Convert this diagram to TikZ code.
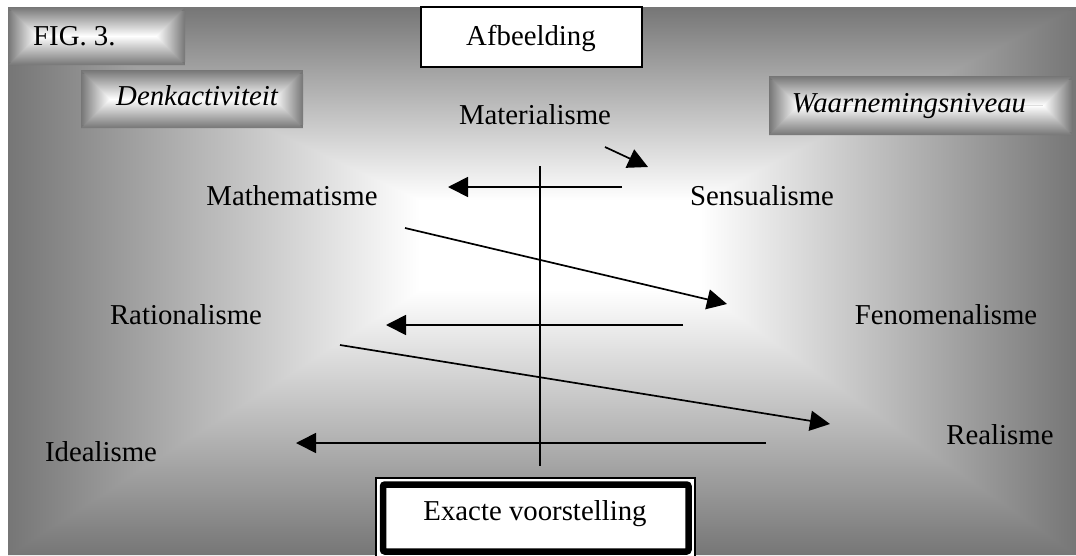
\documentclass[tikz,border=0pt]{standalone}
\usepackage{fontspec}
\setmainfont{Liberation Serif}
\usetikzlibrary{arrows.meta,calc}
\definecolor{edgegray}{RGB}{118,118,118}
\newcommand{\rectgrad}[9]{%
  \fill[#9] (#1,#2) rectangle (#3,#4);
  \fill[white] (#5,#6) rectangle (#7,#8);
  \shade[left color=#9,right color=white] (#1,#2+4) rectangle (#5,#4-4);
  \shade[left color=white,right color=#9] (#7,#2+4) rectangle (#3,#4-4);
  \shade[top color=#9,bottom color=white] (#1,#2) -- (#3,#2) -- (#7,#6) -- (#5,#6) -- cycle;
  \shade[top color=white,bottom color=#9] (#5,#8) -- (#7,#8) -- (#3,#4) -- (#1,#4) -- cycle;}
\begin{document}
\begin{tikzpicture}[x=1pt,y=-1pt,
    lbl/.style={font=\fontsize{28.8}{34}\selectfont,anchor=base,inner sep=0pt},
    arr/.style={line width=1.7pt,-{Triangle[length=20pt,width=20pt]}}]
    \useasboundingbox (0,0) rectangle (1076,555);
    \clip (0,0) rectangle (1076,555);
    \rectgrad{8}{7}{1076}{555}{420}{200}{700}{290}{edgegray}
    \rectgrad{8}{7}{185}{65}{37}{36}{156}{36}{edgegray}
    \rectgrad{81}{70}{303}{128}{110}{99}{274}{99}{edgegray}
    \rectgrad{769}{76}{1072}{135}{798}{105.5}{1043}{105.5}{edgegray}
    \draw[line width=1.3pt,fill=white] (421,7) rectangle (642,67);
    \fill[white] (376,478) rectangle (695,570);
    \draw[line width=1.2pt] (376,478) rectangle (695,558);
    \draw[line width=6.5pt,rounded corners=2pt] (383,484.5) rectangle (688.5,551.5);
    \node[lbl,anchor=base west] (fig) at (33,45) {FIG. 3.};
    \node[lbl] (afb) at (531,45) {Afbeelding};
    \node[lbl] (denk) at (197,105) {\itshape Denkactiviteit};
    \node[lbl] (waarn) at (909,112) {\itshape Waarnemingsniveau};
    \node[lbl] (mater) at (535,124) {Materialisme};
    \node[lbl] (mathem) at (292,205) {Mathematisme};
    \node[lbl] (sens) at (762,205) {Sensualisme};
    \node[lbl] (ratio) at (186,324) {Rationalisme};
    \node[lbl] (fenom) at (946,324) {Fenomenalisme};
    \node[lbl] (ideal) at (101,461) {Idealisme};
    \node[lbl] (real) at (1000,444) {Realisme};
    \node[lbl] (exact) at (535,520) {Exacte voorstelling};
    \coordinate (as1) at (540,166);
    \coordinate (as2) at (540,466);
    \draw[line width=1.7pt] (as1) -- (as2);
    \coordinate (a1) at (622,187);
    \coordinate (b1) at (448,187);
    \coordinate (a2) at (605,147);
    \coordinate (b2) at (648,167);
    \coordinate (a3) at (405,228);
    \coordinate (b3) at (727,304);
    \coordinate (a4) at (683,325);
    \coordinate (b4) at (386,325);
    \coordinate (a5) at (340,345);
    \coordinate (b5) at (830,424);
    \coordinate (a6) at (766,443);
    \coordinate (b6) at (296,443);
    \draw[arr] (a1) -- (b1);
    \draw[arr] (a2) -- (b2);
    \draw[arr] (a3) -- (b3);
    \draw[arr] (a4) -- (b4);
    \draw[arr] (a5) -- (b5);
    \draw[arr] (a6) -- (b6);
\end{tikzpicture}
\end{document}
